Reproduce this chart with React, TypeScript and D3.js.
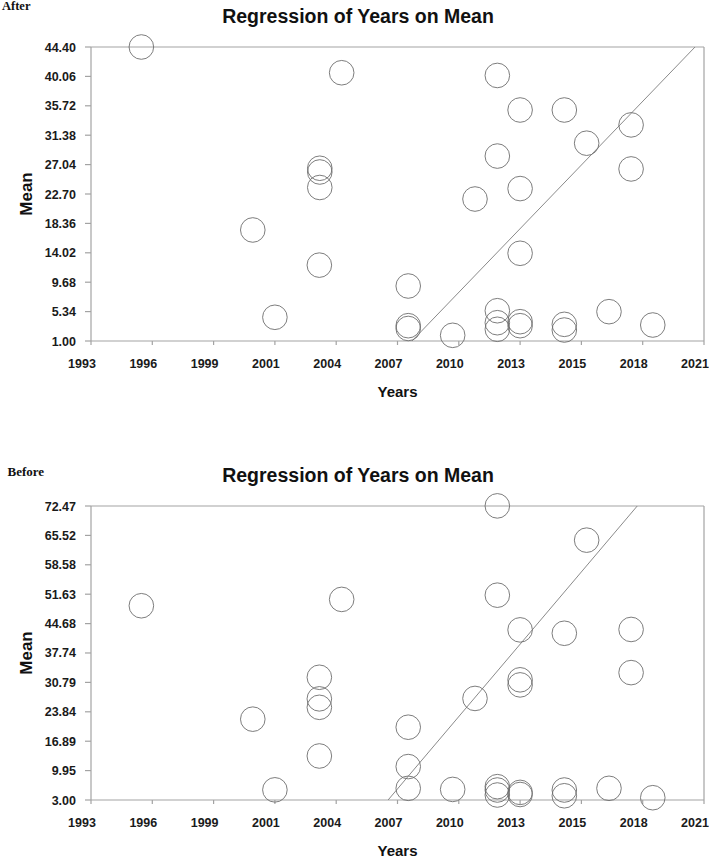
import React from 'react';
import * as d3 from 'd3';

// ---------- data ----------
const xTickLabels = ["1993", "1996", "1999", "2001", "2004", "2007", "2010", "2013", "2015", "2018", "2021"];
const xDomain = [1993, 2021];

const afterYTickLabels = ["1.00", "5.34", "9.68", "14.02", "18.36", "22.70", "27.04", "31.38", "35.72", "40.06", "44.40"];
const beforeYTickLabels = ["3.00", "9.95", "16.89", "23.84", "30.79", "37.74", "44.68", "51.63", "58.58", "65.52", "72.47"];

const afterYears = [
  1995.3, 2004.45, 2003.45, 2003.45, 2003.45, 2000.39, 2003.43, 2001.4,
  2011.56, 2012.6, 2014.62, 2017.67, 2015.64, 2017.67, 2011.56, 2012.6,
  2010.54, 2012.6, 2007.49, 2007.49, 2007.49, 2009.52, 2011.56, 2011.56,
  2011.56, 2012.6, 2012.6, 2014.62, 2014.62, 2016.66, 2018.66,
];
const afterMeans = [
  44.4, 40.6, 26.5, 25.95, 23.66, 17.39, 12.2, 4.5,
  40.2, 35.1, 35.1, 32.9, 30.2, 26.4, 28.3, 23.5,
  21.96, 13.95, 9.12, 3.26, 2.85, 1.84, 5.47, 3.7,
  2.73, 3.85, 3.26, 3.46, 2.62, 5.33, 3.36,
];

const beforeYears = [
  1995.3, 2004.45, 2011.56, 2015.64, 2011.56, 2012.6, 2014.62, 2017.67,
  2017.67, 2012.6, 2012.6, 2010.54, 2007.49, 2007.49, 2007.49, 2009.52,
  2011.56, 2011.56, 2011.56, 2012.6, 2012.6, 2014.62, 2014.62, 2016.66,
  2018.66, 2003.43, 2003.43, 2003.43, 2000.39, 2003.43, 2001.4,
];
const beforeMeans = [
  48.9, 50.4, 72.5, 64.4, 51.4, 43.2, 42.4, 43.3,
  33.1, 31.4, 30.2, 27.0, 20.2, 10.9, 5.76, 5.5,
  6.15, 5.36, 4.18, 4.8, 4.3, 5.36, 4.0, 5.76,
  3.54, 32.0, 26.9, 24.9, 22.1, 13.4, 5.4,
];

const afterFitYears = [2007.66, 2020.59];
const afterFitMeans = [1.0, 44.4];
const beforeFitYears = [2006.57, 2017.95];
const beforeFitMeans = [3.0, 72.47];

// ---------- layout ----------
const W = 709;
const H = 858;
const PL = 91, PR = 704, PT = 47, PB = 341;
const OFFSET = 459;
const AXIS = '#a3a3a3';
const SANS = '"Liberation Sans", Arial, sans-serif';
const SERIF = '"Liberation Serif", "Times New Roman", serif';

type PanelProps = {
  dy: number;
  tag: string;
  tagX: number;
  tagY: number;
  tagSize: number;
  years: number[];
  means: number[];
  yLabels: string[];
  fitYears: number[];
  fitMeans: number[];
};

function Panel({ dy, tag, tagX, tagY, tagSize, years, means, yLabels, fitYears, fitMeans }: PanelProps) {
  const x = d3.scaleLinear().domain(xDomain).range([PL, PR]);
  const yVals = yLabels.map((s) => parseFloat(s));
  const y = d3.scaleLinear().domain([yVals[0], yVals[yVals.length - 1]]).range([PB, PT]);
  const xTickVals = d3.range(xTickLabels.length).map(
    (i) => xDomain[0] + ((xDomain[1] - xDomain[0]) * i) / (xTickLabels.length - 1)
  );
  const pts = years.map((yr, i) => [yr, means[i]] as [number, number]);
  const fit = d3
    .line<[number, number]>()
    .x((d) => x(d[0]))
    .y((d) => y(d[1]))(fitYears.map((yr, i) => [yr, fitMeans[i]] as [number, number]));

  return (
    <g transform={`translate(0,${dy})`}>
      <text x={tagX} y={tagY} fontFamily={SERIF} fontWeight="bold" fontSize={tagSize} fill="#111">
        {tag}
      </text>
      <text x={358} y={23} textAnchor="middle" fontFamily={SANS} fontWeight="bold" fontSize={19.5} fill="#111">
        Regression of Years on Mean
      </text>
      {/* frame */}
      <line x1={PL} y1={PT} x2={PR} y2={PT} stroke={AXIS} strokeWidth={1.2} />
      <line x1={PR} y1={PT} x2={PR} y2={PB} stroke={AXIS} strokeWidth={1.2} />
      <line x1={PL} y1={PT} x2={PL} y2={PB} stroke={AXIS} strokeWidth={1.2} />
      <line x1={PL} y1={PB} x2={PR} y2={PB} stroke={AXIS} strokeWidth={1.2} />
      {/* y ticks */}
      {yVals.map((v, i) => (
        <g key={'y' + i}>
          <line x1={PL - 6} x2={PL} y1={y(v)} y2={y(v)} stroke={AXIS} strokeWidth={1.2} />
          <text x={76} y={y(v)} dy="0.36em" textAnchor="end" fontFamily={SANS} fontWeight="bold" fontSize={12.5} fill="#1a1a1a">
            {yLabels[i]}
          </text>
        </g>
      ))}
      {/* x ticks */}
      {xTickVals.map((v, i) => (
        <g key={'x' + i}>
          <line x1={x(v)} x2={x(v)} y1={PB} y2={PB + 4} stroke={AXIS} strokeWidth={1.2} />
          <text x={x(v) - 9} y={PB + 26.5} textAnchor="middle" fontFamily={SANS} fontWeight="bold" fontSize={12.5} fill="#1a1a1a">
            {xTickLabels[i]}
          </text>
        </g>
      ))}
      <text x={397.5} y={PB + 56} textAnchor="middle" fontFamily={SANS} fontWeight="bold" fontSize={15} fill="#111">
        Years
      </text>
      <text
        transform={`translate(32,${(PT + PB) / 2 + 0}) rotate(-90)`}
        textAnchor="middle"
        fontFamily={SANS}
        fontWeight="bold"
        fontSize={17}
        fill="#111"
      >
        Mean
      </text>
      {/* regression line */}
      <path d={fit || ''} fill="none" stroke="#8a8a8a" strokeWidth={1} />
      {/* points */}
      {pts.map((d, i) => (
        <circle key={'c' + i} cx={x(d[0])} cy={y(d[1])} r={12.3} fill="none" stroke="#6e6e6e" strokeWidth={0.9} />
      ))}
    </g>
  );
}

export default function App() {
  return (
    <svg
      width={W}
      height={H}
      viewBox={`0 0 ${W} ${H}`}
      style={{ position: 'absolute', left: 0, top: 0, background: '#fff' }}
    >
      <rect x={0} y={0} width={W} height={H} fill="#fff" />
      <Panel
        dy={0}
        tag="After"
        tagX={2}
        tagY={10}
        tagSize={12.5}
        years={afterYears}
        means={afterMeans}
        yLabels={afterYTickLabels}
        fitYears={afterFitYears}
        fitMeans={afterFitMeans}
      />
      <Panel
        dy={OFFSET}
        tag="Before"
        tagX={7.5}
        tagY={17}
        tagSize={13}
        years={beforeYears}
        means={beforeMeans}
        yLabels={beforeYTickLabels}
        fitYears={beforeFitYears}
        fitMeans={beforeFitMeans}
      />
    </svg>
  );
}
